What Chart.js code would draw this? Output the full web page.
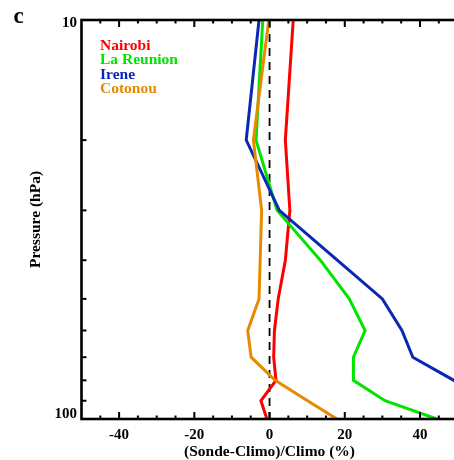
<!DOCTYPE html>
<html>
<head>
<meta charset="utf-8">
<title>Sonde - Climo</title>
<script src="https://cdn.jsdelivr.net/npm/chart.js@4/dist/chart.umd.min.js"></script>
<style>
  html, body { margin: 0; padding: 0; background: #fff; overflow: hidden; }
  #wrap { width: 460px; height: 460px; }
</style>
</head>
<body>
<div id="wrap"><canvas id="profilechart" width="460" height="460"></canvas></div>
<script>
// ==========================================================================
// Data
// ==========================================================================
var pressure = [10, 20, 30, 40, 50, 60, 70, 80, 90, 100];

var nairobi   = [6.3, 4.2, 5.4, 4.2, 2.3, 1.3, 1.1, 1.7, -2.3, -0.7];
var laReunion = [-1.8, -3.6, 2.0, 13.5, 21.2, 25.4, 22.3, 22.3, 30.7, 44.5];
var irene     = [-2.8, -6.2, 2.6, 18.0, 30.0, 35.2, 38.1, 49.0, 55.0, 60.0];
var cotonou   = [-0.2, -4.3, -2.1, -2.5, -2.8, -5.8, -4.9, 1.5, 10.1, 17.9];

var stations = ["Nairobi", "La Reunion", "Irene", "Cotonou"];
var stationColors = ["#ff0000", "#00e400", "#0a28b4", "#e68a00"];

var xTicks = [-40, -20, 0, 20, 40];
var yTicks = [10, 100];
var zeroLine = [0, 0];
var zeroLinePressure = [10, 100];

var serif = "'Liberation Serif', 'Times New Roman', serif";


function profile(values) {
  return values.map(function(v, i) {
    return {x: v, y: pressure[i]};
  });
}

function stationSet(i, values) {
  return {
    label: stations[i],
    data: profile(values),
    borderColor: stationColors[i],
    backgroundColor: stationColors[i],
    borderWidth: 3,
    pointRadius: 0,
    showLine: true,
    order: 4 - i
  };
}


// ==========================================================================
// Frame, inner ticks, pressure labels, legend and panel letter
// ==========================================================================
var framePlugin = {
  id: 'frame',
  afterDraw: function(chart) {
    var ctx = chart.ctx,
        a = chart.chartArea,
        x = chart.scales.x,
        y = chart.scales.y;

    ctx.save();
    ctx.strokeStyle = '#000';
    ctx.lineWidth = 2.6;
    ctx.strokeRect(a.left, a.top, a.right - a.left, a.bottom - a.top);

    // top / bottom ticks, every 5 %, long ones every 20 %
    ctx.lineWidth = 2;
    for (var v = -45; v < 50; v += 5) {
      var px = x.getPixelForValue(v);
      var len = (v % 20 === 0) ? 7 : 3.5;
      ctx.beginPath();
      ctx.moveTo(px, a.top);
      ctx.lineTo(px, a.top + len);
      ctx.moveTo(px, a.bottom);
      ctx.lineTo(px, a.bottom - len);
      ctx.stroke();
    }

    // pressure ticks 20..90 on the left axis
    for (var p = 20; p < 100; p += 10) {
      var py = y.getPixelForValue(p);
      ctx.beginPath();
      ctx.moveTo(a.left, py);
      ctx.lineTo(a.left + 5, py);
      ctx.stroke();
    }

    // end labels of the pressure axis, nudged inwards like the original
    ctx.fillStyle = '#000';
    ctx.font = 'bold 15px ' + serif;
    ctx.textAlign = 'right';
    ctx.textBaseline = 'middle';
    yTicks.forEach(function(t, i) {
      var nudge = (i === 0) ? 3.5 : -4.5;
      ctx.fillText(String(t), a.left - 4.5, y.getPixelForValue(t) + nudge);
    });

    // legend as coloured text
    ctx.font = 'bold 15.5px ' + serif;
    ctx.textAlign = 'left';
    stations.forEach(function(name, i) {
      ctx.fillStyle = stationColors[i];
      ctx.fillText(name, 100, 45.5 + i * 14.6);
    });

    // panel letter
    ctx.fillStyle = '#000';
    ctx.font = 'bold 23px ' + serif;
    ctx.textBaseline = 'alphabetic';
    ctx.fillText('c', 13.5, 23);
    ctx.restore();
  }
};


// ==========================================================================
// Chart
// ==========================================================================
var datasets = [
  {
    label: 'zero',
    data: zeroLine.map(function(v, i) { return {x: v, y: zeroLinePressure[i]}; }),
    borderColor: '#000',
    borderWidth: 1.8,
    borderDash: [8, 6],
    pointRadius: 0,
    showLine: true,
    order: 10
  },
  stationSet(0, nairobi),
  stationSet(1, laReunion),
  stationSet(2, irene),
  stationSet(3, cotonou)
];

var tickFont = {family: serif, size: 15, weight: 'bold', lineHeight: 1.2};

new Chart(document.getElementById('profilechart'), {
  type: 'scatter',
  data: {datasets: datasets},
  plugins: [framePlugin],
  options: {
    responsive: false,
    animation: false,
    devicePixelRatio: 1,
    layout: {padding: {top: 20, right: 2.4, left: 0, bottom: 0}},
    plugins: {
      legend: {display: false},
      tooltip: {enabled: false}
    },
    scales: {
      x: {
        type: 'linear',
        min: -50,
        max: 50,
        grid: {display: false, drawTicks: false},
        border: {display: false},
        afterBuildTicks: function(scale) {
          scale.ticks = xTicks.map(function(v) { return {value: v}; });
        },
        afterFit: function(scale) { scale.height = 41; },
        ticks: {
          color: '#000',
          font: tickFont,
          padding: 7,
          maxRotation: 0,
          callback: function(v) { return String(v); }
        },
        title: {
          display: true,
          text: '(Sonde-Climo)/Climo (%)',
          color: '#000',
          font: {family: serif, size: 15.5, weight: 'bold', lineHeight: 1},
          padding: {top: 0, bottom: 0}
        }
      },
      y: {
        type: 'logarithmic',
        min: 10,
        max: 100,
        reverse: true,
        grid: {display: false, drawTicks: false},
        border: {display: false},
        afterBuildTicks: function(scale) {
          scale.ticks = yTicks.map(function(v) { return {value: v}; });
        },
        afterFit: function(scale) { scale.width = 81.5; },
        ticks: {display: false},
        title: {
          display: true,
          text: 'Pressure (hPa)',
          color: '#000',
          font: {family: serif, size: 15.5, weight: 'bold', lineHeight: 1.2},
          padding: {top: 27, bottom: 0}
        }
      }
    }
  }
});
</script>
</body>
</html>
